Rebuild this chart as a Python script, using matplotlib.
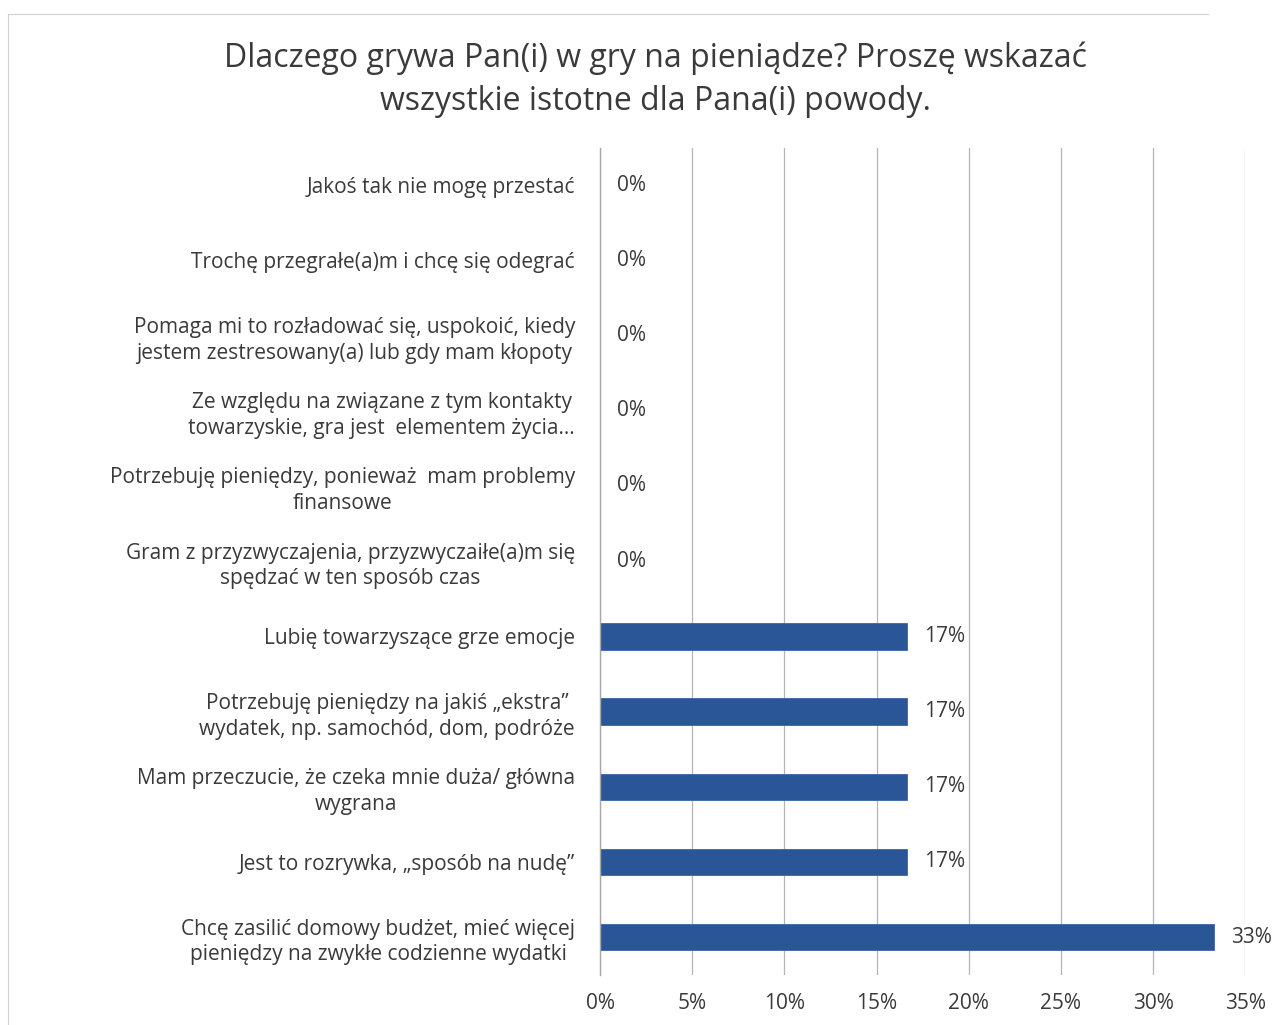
import matplotlib.pyplot as plt
import matplotlib.ticker as mticker

# ───── Data ─────
categories = [
    "Jakoś tak nie mogę przestać",
    "Trochę przegrałe(a)m i chcę się odegrać",
    "Pomaga mi to rozładować się, uspokoić, kiedy\njestem zestresowany(a) lub gdy mam kłopoty",
    "Ze względu na związane z tym kontakty\ntowarzyskie, gra jest  elementem życia...",
    "Potrzebuję pieniędzy, ponieważ  mam problemy\nfinansowe",
    "Gram z przyzwyczajenia, przyzwyczaiłe(a)m się\nspędzać w ten sposób czas",
    "Lubię towarzyszące grze emocje",
    "Potrzebuję pieniędzy na jakiś „ekstra”\nwydatek, np. samochód, dom, podróże",
    "Mam przeczucie, że czeka mnie duża/ główna\nwygrana",
    "Jest to rozrywka, „sposób na nudę”",
    "Chcę zasilić domowy budżet, mieć więcej\npieniędzy na zwykłe codzienne wydatki",
]
values = [0, 0, 0, 0, 0, 0, 1 / 6, 1 / 6, 1 / 6, 1 / 6, 1 / 3]
value_labels = ["0%", "0%", "0%", "0%", "0%", "0%", "17%", "17%", "17%", "17%", "33%"]
x_ticks = [0, 0.05, 0.10, 0.15, 0.20, 0.25, 0.30, 0.35]

BAR_COLOR = "#2a5597"
TEXT_COLOR = "#3a3a3a"
plt.rcParams['font.family'] = ['Open Sans', 'DejaVu Sans']

fig = plt.figure(figsize=(12.85, 10.25), dpi=100)
ax = fig.add_axes([0.467, 0.049, 0.502, 0.807])

pos = list(range(len(categories)))
ax.barh(pos, values, height=0.35, color=BAR_COLOR, edgecolor="#3b66a8", linewidth=0.6)

for y, v, lab in zip(pos, values, value_labels):
    ax.text(v + 0.009, y, lab, va="center", ha="left", fontsize=15, color=TEXT_COLOR)

ax.set_ylim(len(categories) - 0.5, -0.5)
ax.set_xlim(0, 0.35)
ax.set_yticks(pos)
ax.set_yticklabels(categories, fontsize=15, color=TEXT_COLOR, linespacing=1.3,
                   multialignment="center")
ax.set_xticks(x_ticks)
ax.xaxis.set_major_formatter(mticker.PercentFormatter(1.0, decimals=0))
ax.tick_params(axis="x", labelsize=15, labelcolor=TEXT_COLOR, length=0, pad=13)
ax.tick_params(axis="y", length=0, pad=18)

ax.grid(axis="x", color="#b5b5b5", linewidth=0.9)
ax.set_axisbelow(True)
for s in ["top", "right", "bottom"]:
    ax.spines[s].set_visible(False)
ax.spines["left"].set_color("#a8a8a8")
ax.spines["left"].set_linewidth(1.0)

fig.text(0.51, 0.922, "Dlaczego grywa Pan(i) w gry na pieniądze? Proszę wskazać\nwszystkie istotne dla Pana(i) powody.",
         ha="center", va="center", fontsize=23, color=TEXT_COLOR, linespacing=1.4)

# faint page border from the scanned chart frame
fig.add_artist(plt.Line2D([0.006, 0.94], [0.986, 0.986], transform=fig.transFigure, color="#d0d0d0", linewidth=0.8))
fig.add_artist(plt.Line2D([0.006, 0.006], [0.0, 0.986], transform=fig.transFigure, color="#d0d0d0", linewidth=0.8))

fig.savefig("out.png", dpi=100, facecolor="white")
